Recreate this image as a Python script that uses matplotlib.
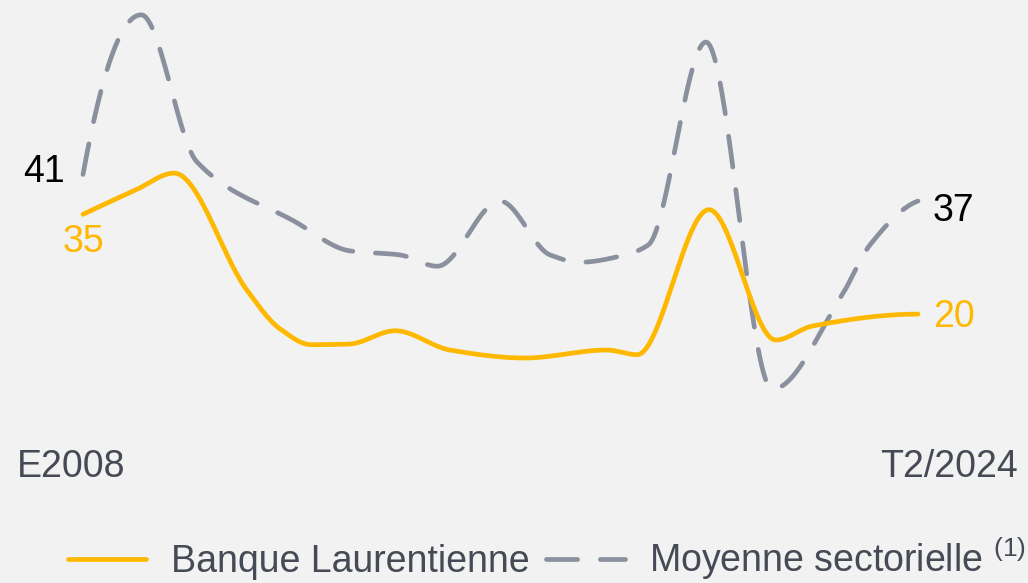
import matplotlib
matplotlib.use("Agg")
import matplotlib.pyplot as plt
import numpy as np

plt.rcParams['font.family'] = ['Liberation Sans', 'DejaVu Sans']
plt.rcParams['mathtext.fontset'] = 'custom'
plt.rcParams['mathtext.rm'] = 'Liberation Sans'
plt.rcParams['mathtext.it'] = 'Liberation Sans'

# knots (decimal year, value)
blc_years = [2008.0, 2009.05, 2009.8, 2011.24, 2011.89, 2012.51, 2013.26, 2014.17,
             2015.25, 2016.73, 2018.35, 2018.95, 2020.37, 2021.69, 2022.41, 2024.5]
blc_values = [35, 38.7, 41.2, 23.6, 17.8, 15.4, 15.5, 17.5,
              14.6, 13.4, 14.6, 13.9, 35.7, 16.1, 18.2, 20]

avg_years = [2008.0, 2009.15, 2010.25, 2012.19, 2013.28, 2014.26, 2015.0, 2016.24,
             2017.23, 2017.82, 2018.71, 2019.17, 2020.31, 2021.62, 2023.0, 2023.55, 2024.5]
avg_values = [41, 65.0, 42.9, 33.9, 29.5, 28.9, 27.2, 37.0,
              28.9, 27.8, 28.9, 30.4, 60.9, 8.7, 22.9, 30.4, 37]

x_labels = ["E2008", "T2/2024"]
series_names = ["Banque Laurentienne", "Moyenne sectorielle $^{(1)}$"]

GOLD = "#FFB800"
GREY = "#8A909E"
TEXT = "#454A55"
BG = "#F2F2F2"


def pchip(x, y, xs):
    # monotone cubic, keeps the peaks round without overshoot
    x = np.asarray(x, float)
    y = np.asarray(y, float)
    h = np.diff(x)
    d = np.diff(y) / h
    n = len(x)
    m = np.zeros(n)
    for k in range(1, n - 1):
        if d[k - 1] * d[k] > 0:
            w1 = 2 * h[k] + h[k - 1]
            w2 = h[k] + 2 * h[k - 1]
            m[k] = (w1 + w2) / (w1 / d[k - 1] + w2 / d[k])
    for k0, k1, idx in [(0, 1, 0), (-1, -2, -1)]:
        mm = ((2 * h[k0] + h[k1]) * d[k0] - h[k0] * d[k1]) / (h[k0] + h[k1])
        if np.sign(mm) != np.sign(d[k0]):
            mm = 0
        elif np.sign(d[k0]) != np.sign(d[k1]) and abs(mm) > abs(3 * d[k0]):
            mm = 3 * d[k0]
        m[idx] = mm
    i = np.clip(np.searchsorted(x, xs) - 1, 0, n - 2)
    t = (xs - x[i]) / h[i]
    h00 = 2 * t**3 - 3 * t**2 + 1
    h10 = t**3 - 2 * t**2 + t
    h01 = -2 * t**3 + 3 * t**2
    h11 = t**3 - t**2
    return h00 * y[i] + h10 * h[i] * m[i] + h01 * y[i + 1] + h11 * h[i] * m[i + 1]


fig = plt.figure(figsize=(10.28, 5.83), dpi=100, facecolor=BG)
ax = fig.add_axes([0, 0, 1, 1])
ax.set_facecolor(BG)
ax.axis("off")

xs = np.linspace(blc_years[0], blc_years[-1], 900)
ax.plot(xs, pchip(blc_years, blc_values, xs), color=GOLD, lw=3.4,
        solid_capstyle="round", label=series_names[0], zorder=3)
ax.plot(xs, pchip(avg_years, avg_values, xs), color=GREY, lw=3.4,
        dashes=(6.6, 4.8), dash_capstyle="round", label=series_names[1], zorder=2)

ax.set_xlim(2006.36, 2026.674)
ax.set_ylim(-20.43, 67.23)

fs = 27
ax.annotate(f"{avg_values[0]}", (avg_years[0], avg_values[0]), xytext=(-18, 2),
            textcoords="offset pixels", ha="right", va="center", fontsize=fs, color="black")
ax.annotate(f"{blc_values[0]}", (blc_years[0], blc_values[0]), xytext=(0, -28),
            textcoords="offset pixels", ha="center", va="center", fontsize=fs, color=GOLD)
ax.annotate(f"{avg_values[-1]}", (avg_years[-1], avg_values[-1]), xytext=(15, -10),
            textcoords="offset pixels", ha="left", va="center", fontsize=fs, color="black")
ax.annotate(f"{blc_values[-1]}", (blc_years[-1], blc_values[-1]), xytext=(15, -3),
            textcoords="offset pixels", ha="left", va="center", fontsize=fs, color=GOLD)

# period labels under the chart
ax.annotate(x_labels[0], (blc_years[0], 0), xycoords=("data", "figure fraction"),
            xytext=(-12, 116), textcoords="offset pixels", ha="center", va="center",
            fontsize=fs, color=TEXT)
ax.annotate(x_labels[1], (blc_years[-1], 0), xycoords=("data", "figure fraction"),
            xytext=(31, 116), textcoords="offset pixels", ha="center", va="center",
            fontsize=fs, color=TEXT)

fig.legend(loc="lower center", bbox_to_anchor=(0.532, -0.057), ncol=2, frameon=False,
           fontsize=fs, labelcolor=TEXT, handlelength=2.1, handletextpad=0.65,
           columnspacing=0.45)

fig.savefig("out.png", dpi=100, facecolor=BG)
